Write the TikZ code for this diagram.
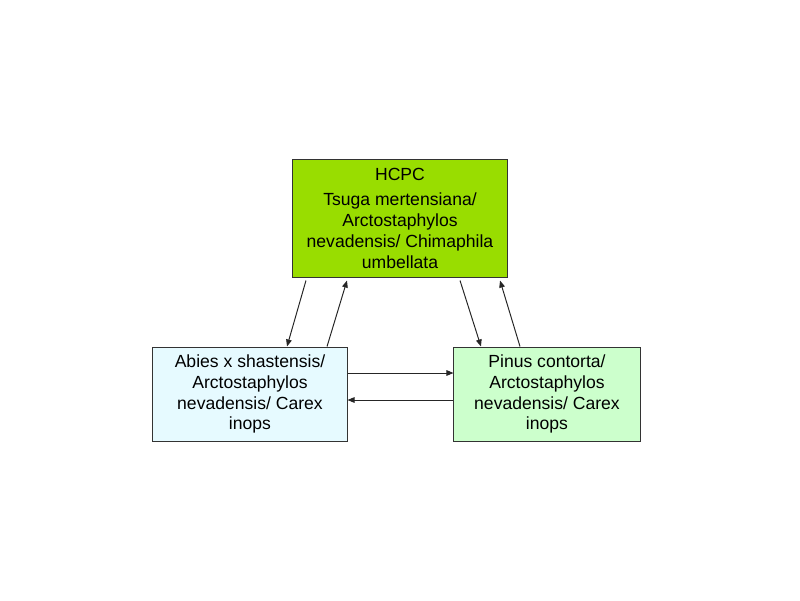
\documentclass[tikz,border=0pt]{standalone}
\usepackage{fontspec}
\setmainfont{Liberation Sans}
\usetikzlibrary{arrows.meta}
\definecolor{hcpcgreen}{RGB}{153,221,0}
\definecolor{abiescyan}{RGB}{230,250,255}
\definecolor{pinusgreen}{RGB}{204,255,204}
\begin{document}
\begin{tikzpicture}[x=0.025cm,y=-0.025cm,
  state/.style={draw=black!80, line width=0.7pt, align=center, inner sep=2pt,
    font=\fontsize{12.5}{14.9}\selectfont},
  trans/.style={draw=black!85, line width=0.7pt, -{Triangle[length=5pt,width=4pt]}}]
\useasboundingbox (0,0) rectangle (800,600);
% STATES
\node[state, fill=hcpcgreen, minimum width=5.35cm, minimum height=2.925cm]
  at (400,218.5) (hcpc) {HCPC\\[3pt]Tsuga mertensiana/\\Arctostaphylos\\nevadensis/ Chimaphila\\umbellata};
\node[state, fill=abiescyan, minimum width=4.85cm, minimum height=2.35cm]
  at (250,394) (abies) {Abies x shastensis/\\Arctostaphylos\\nevadensis/ Carex\\inops};
\node[state, fill=pinusgreen, minimum width=4.65cm, minimum height=2.35cm]
  at (547,394) (pinus) {Pinus contorta/\\Arctostaphylos\\nevadensis/ Carex\\inops};
% TRANSITIONS
\draw[trans] ([xshift=-2.35cm,yshift=-0.075cm]hcpc.south) -- ([xshift=0.925cm]abies.north);
\draw[trans] ([xshift=1.925cm]abies.north) -- ([xshift=-1.325cm,yshift=-0.075cm]hcpc.south);
\draw[trans] ([xshift=1.5cm,yshift=-0.075cm]hcpc.south) -- ([xshift=-1.65cm]pinus.north);
\draw[trans] ([xshift=-0.675cm]pinus.north) -- ([xshift=2.5cm,yshift=-0.075cm]hcpc.south);
\draw[trans] ([yshift=0.525cm]abies.east) -- ([yshift=0.525cm]pinus.west);
\draw[trans] ([yshift=-0.15cm]pinus.west) -- ([yshift=-0.15cm]abies.east);
\end{tikzpicture}
\end{document}
